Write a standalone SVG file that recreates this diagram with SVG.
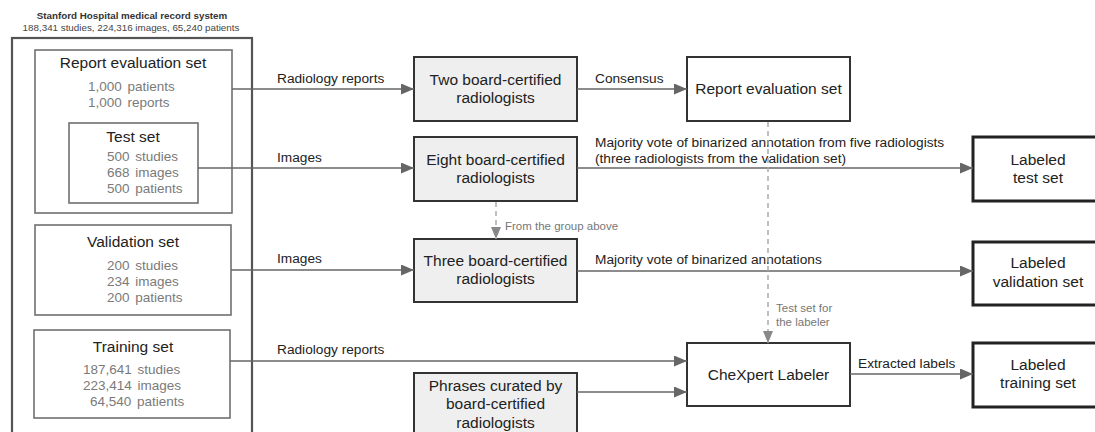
<svg xmlns="http://www.w3.org/2000/svg" width="1095" height="432" viewBox="0 0 1095 432">
  <style>
    text { font-family: "Liberation Sans", Arial, sans-serif; }
    .title { font-size: 15.5px; fill: #222; text-anchor: middle; }
    .stat { font-size: 13.5px; fill: #7a7a7a; word-spacing: 2px; }
    .edge { font-size: 13.7px; fill: #222; }
    .note { font-size: 11.5px; fill: #777; }
    .head1 { font-size: 9.8px; font-weight: bold; fill: #333; text-anchor: middle; }
    .head2 { font-size: 9.8px; fill: #444; text-anchor: middle; }
    .outer { fill: none; stroke: #555; stroke-width: 2.2; }
    .subset { fill: #fff; stroke: #707070; stroke-width: 1.6; }
    .rad { fill: #efefef; stroke: #333; stroke-width: 2; }
    .plain { fill: #fff; stroke: #333; stroke-width: 2; }
    .result { fill: #fff; stroke: #222; stroke-width: 3; }
    .flow { fill: none; stroke: #666; stroke-width: 1.6; marker-end: url(#arrow); }
    .dash { fill: none; stroke: #aaa; stroke-width: 1.5; stroke-dasharray: 5 4; marker-end: url(#arrowLight); }
  </style>
  <defs>
    <marker id="arrow" markerUnits="userSpaceOnUse" markerWidth="13" markerHeight="11" refX="13" refY="5.5" orient="auto">
      <path d="M0,0 L13,5.5 L0,11 z" fill="#666"/>
    </marker>
    <marker id="arrowLight" markerUnits="userSpaceOnUse" markerWidth="12" markerHeight="10" refX="12" refY="5" orient="auto">
      <path d="M0,0 L12,5 L0,10 z" fill="#888"/>
    </marker>
  </defs>

  <rect width="1095" height="432" fill="#fff"/>

  <!-- Source system -->
  <g id="hospital">
    <text class="head1" x="132" y="19">Stanford Hospital medical record system</text>
    <text class="head2" x="131" y="31">188,341 studies, 224,316 images, 65,240 patients</text>
    <rect class="outer" x="12" y="38" width="240" height="420"/>
  </g>

  <g id="report-eval-source">
    <rect class="subset" x="35" y="50" width="197" height="163"/>
    <text class="title" x="133" y="68">Report evaluation set</text>
    <text class="stat" x="88" y="91">1,000 patients</text>
    <text class="stat" x="88" y="107">1,000 reports</text>
  </g>

  <g id="test-source">
    <rect class="subset" x="69" y="123" width="129" height="80"/>
    <text class="title" x="133" y="142">Test set</text>
    <text class="stat" x="107" y="161">500 studies</text>
    <text class="stat" x="107" y="177">668 images</text>
    <text class="stat" x="107" y="193">500 patients</text>
  </g>

  <g id="validation-source">
    <rect class="subset" x="35" y="225" width="196" height="90"/>
    <text class="title" x="133" y="247">Validation set</text>
    <text class="stat" x="107" y="270">200 studies</text>
    <text class="stat" x="107" y="286">234 images</text>
    <text class="stat" x="107" y="302">200 patients</text>
  </g>

  <g id="training-source">
    <rect class="subset" x="34" y="330" width="196" height="88"/>
    <text class="title" x="133" y="352">Training set</text>
    <text class="stat" x="83" y="374">187,641 studies</text>
    <text class="stat" x="83" y="390">223,414 images</text>
    <text class="stat" x="90" y="406">64,540 patients</text>
  </g>

  <!-- Annotators -->
  <g id="two-radiologists">
    <rect class="rad" x="414" y="57" width="163" height="64"/>
    <text class="title" x="495.5" y="85">Two board-certified</text>
    <text class="title" x="495.5" y="103">radiologists</text>
  </g>

  <g id="eight-radiologists">
    <rect class="rad" x="414" y="137" width="163" height="64"/>
    <text class="title" x="495.5" y="165">Eight board-certified</text>
    <text class="title" x="495.5" y="183">radiologists</text>
  </g>

  <g id="three-radiologists">
    <rect class="rad" x="414" y="239" width="163" height="63"/>
    <text class="title" x="495.5" y="266">Three board-certified</text>
    <text class="title" x="495.5" y="284">radiologists</text>
  </g>

  <g id="phrases">
    <rect class="rad" x="414" y="373" width="163" height="75"/>
    <text class="title" x="495.5" y="391">Phrases curated by</text>
    <text class="title" x="495.5" y="409">board-certified</text>
    <text class="title" x="495.5" y="428">radiologists</text>
  </g>

  <!-- Outputs -->
  <g id="report-eval-set">
    <rect class="plain" x="687" y="57" width="163" height="64"/>
    <text class="title" x="768.5" y="94">Report evaluation set</text>
  </g>

  <g id="chexpert-labeler">
    <rect class="plain" x="687" y="343" width="163" height="63"/>
    <text class="title" x="768.5" y="380">CheXpert Labeler</text>
  </g>

  <g id="labeled-test">
    <rect class="result" x="973" y="137" width="135" height="64"/>
    <text class="title" x="1038" y="165">Labeled</text>
    <text class="title" x="1038" y="183">test set</text>
  </g>

  <g id="labeled-validation">
    <rect class="result" x="973" y="242" width="135" height="63"/>
    <text class="title" x="1038" y="268">Labeled</text>
    <text class="title" x="1038" y="287">validation set</text>
  </g>

  <g id="labeled-training">
    <rect class="result" x="973" y="343" width="135" height="64"/>
    <text class="title" x="1038" y="370">Labeled</text>
    <text class="title" x="1038" y="388">training set</text>
  </g>

  <!-- Connectors -->
  <g id="connectors">
    <path class="flow" d="M232,89 H414"/>
    <text class="edge" x="277" y="83">Radiology reports</text>

    <path class="flow" d="M577,89 H687"/>
    <text class="edge" x="595" y="83">Consensus</text>

    <path class="flow" d="M198,168 H414"/>
    <text class="edge" x="277" y="162">Images</text>

    <path class="flow" d="M577,168 H973"/>
    <text class="edge" x="595" y="147">Majority vote of binarized annotation from five radiologists</text>
    <text class="edge" x="595" y="163">(three radiologists from the validation set)</text>

    <path class="flow" d="M231,270 H414"/>
    <text class="edge" x="277" y="263">Images</text>

    <path class="flow" d="M577,271 H973"/>
    <text class="edge" x="595" y="264">Majority vote of binarized annotations</text>

    <path class="flow" d="M230,361 H687"/>
    <text class="edge" x="277" y="354">Radiology reports</text>

    <path class="flow" d="M577,392 H687"/>

    <path class="flow" d="M850,374 H973"/>
    <text class="edge" x="858" y="368">Extracted labels</text>

    <path class="dash" d="M496,202 V239"/>
    <text class="note" x="505" y="230">From the group above</text>

    <path class="dash" d="M768,122 V343"/>
    <text class="note" x="776" y="312">Test set for</text>
    <text class="note" x="776" y="326">the labeler</text>
  </g>
</svg>
